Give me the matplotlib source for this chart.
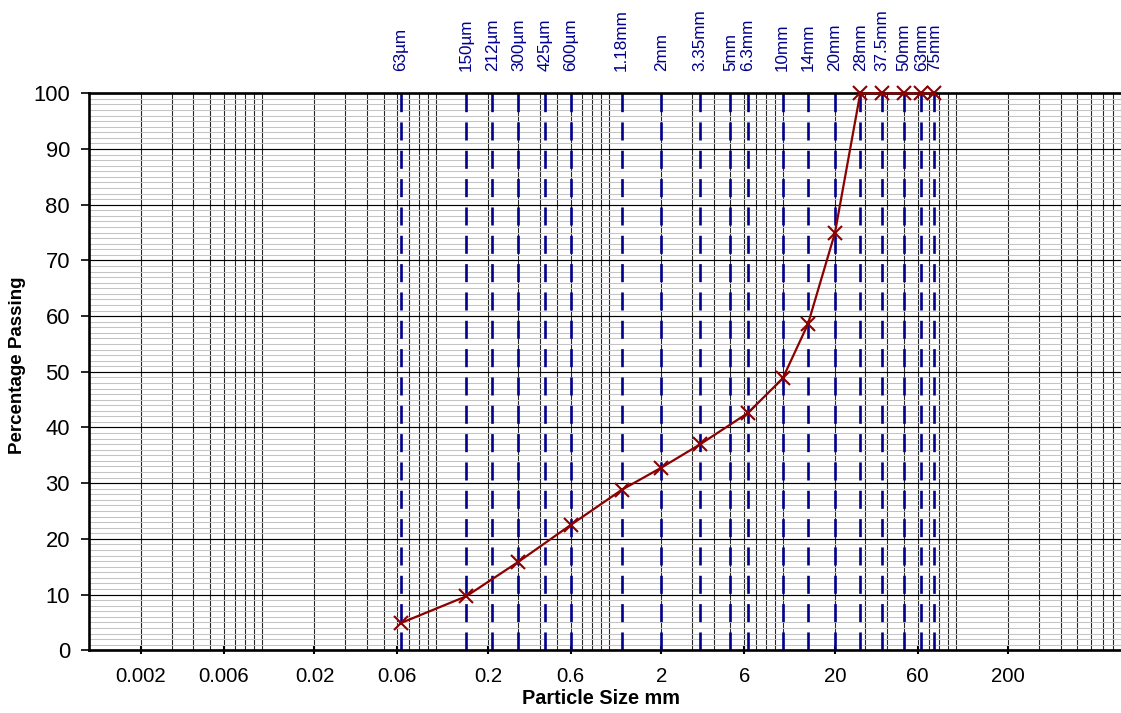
import numpy as np
import matplotlib
matplotlib.use("Agg")
import matplotlib.pyplot as plt
import matplotlib.transforms as mtransforms
from matplotlib.ticker import NullFormatter

plt.rcParams['font.family'] = ['Liberation Sans', 'DejaVu Sans']
plt.rcParams['lines.scale_dashes'] = False

# ---- data ----
sieve_sizes = [0.063, 0.15, 0.212, 0.3, 0.425, 0.6, 1.18, 2, 3.35, 5, 6.3,
               10, 14, 20, 28, 37.5, 50, 63, 75]
sieve_labels = ['63µm', '150µm', '212µm', '300µm', '425µm', '600µm', '1.18mm',
                '2mm', '3.35mm', '5mm', '6.3mm', '10mm', '14mm', '20mm', '28mm',
                '37.5mm', '50mm', '63mm', '75mm']
test_sizes = [0.063, 0.15, 0.3, 0.6, 1.18, 2, 3.35, 6.3, 10, 14, 20,
              28, 37.5, 50, 63, 75]
passing = [4.9, 9.7, 15.9, 22.5, 28.8, 32.8, 37.0, 42.6, 48.8, 58.6, 74.9,
           100, 100, 100, 100, 100]
xtick_vals = [0.002, 0.006, 0.02, 0.06, 0.2, 0.6, 2, 6, 20, 60, 200]
xtick_labels = ['0.002', '0.006', '0.02', '0.06', '0.2', '0.6', '2', '6',
                '20', '60', '200']
ytick_vals = list(range(0, 101, 10))

W, H = 1121, 713
fig = plt.figure(figsize=(W / 100, H / 100), dpi=100)
left_px, right_px, top_px, bot_px = 88.8, 1129.6, 93.3, 650.3
ax = fig.add_axes([left_px / W, 1 - bot_px / H, (right_px - left_px) / W,
                   (bot_px - top_px) / H])

ax.set_xscale('log')
ax.set_xlim(0.001, 1000)
ax.set_ylim(0, 100)

# grid
minor_x = [k * 10.0 ** n for n in range(-3, 3) for k in range(1, 10)]
ax.set_xticks(minor_x, minor=True)
ax.xaxis.set_minor_formatter(NullFormatter())
ax.set_xticks(xtick_vals)
ax.set_xticklabels(xtick_labels)
ax.set_yticks(ytick_vals)
ax.set_yticks(range(0, 101), minor=True)
ax.set_axisbelow(True)
ax.xaxis.grid(True, which='both', color='#262626', lw=0.8)
ax.yaxis.grid(True, which='minor', color='#c4c4c4', lw=0.75)
ax.yaxis.grid(True, which='major', color='#000000', lw=0.85)

ax.tick_params(axis='x', which='major', direction='inout', length=6, width=1.5,
               labelsize=14.7, pad=9)
ax.tick_params(axis='y', which='major', direction='out', length=5.5, width=1.2,
               labelsize=15.8, pad=8)
ax.tick_params(which='minor', length=0)

for s in ['top', 'left', 'bottom', 'right']:
    ax.spines[s].set_linewidth(1.9)
    ax.spines[s].set_color('black')

# sieve lines
navy = '#00008C'
ax.vlines(sieve_sizes, 0, 100, colors=navy, lw=1.9,
          linestyles=[(0, (13, 7.4))], zorder=2)

# data curve
ax.plot(test_sizes, passing, color='#8B0000', lw=1.6, marker='x',
        markersize=10, markeredgewidth=1.5, zorder=5, clip_on=False)

# sieve labels above plot
label_tr = mtransforms.blended_transform_factory(ax.transData, fig.transFigure)
for sz, lab in zip(sieve_sizes, sieve_labels):
    ax.text(sz, 1 - 71 / H, lab, transform=label_tr,
            rotation=90, ha='center', va='bottom', color=navy, fontsize=12.3)

fig.text(601 / W, 1 - 698 / H, 'Particle Size mm', ha='center', va='center',
         fontsize=14.3, fontweight='bold')
fig.text(17.5 / W, 1 - 365 / H, 'Percentage Passing', ha='center', va='center',
         rotation=90, fontsize=13.5, fontweight='bold')

fig.savefig('out.png', dpi=100)
